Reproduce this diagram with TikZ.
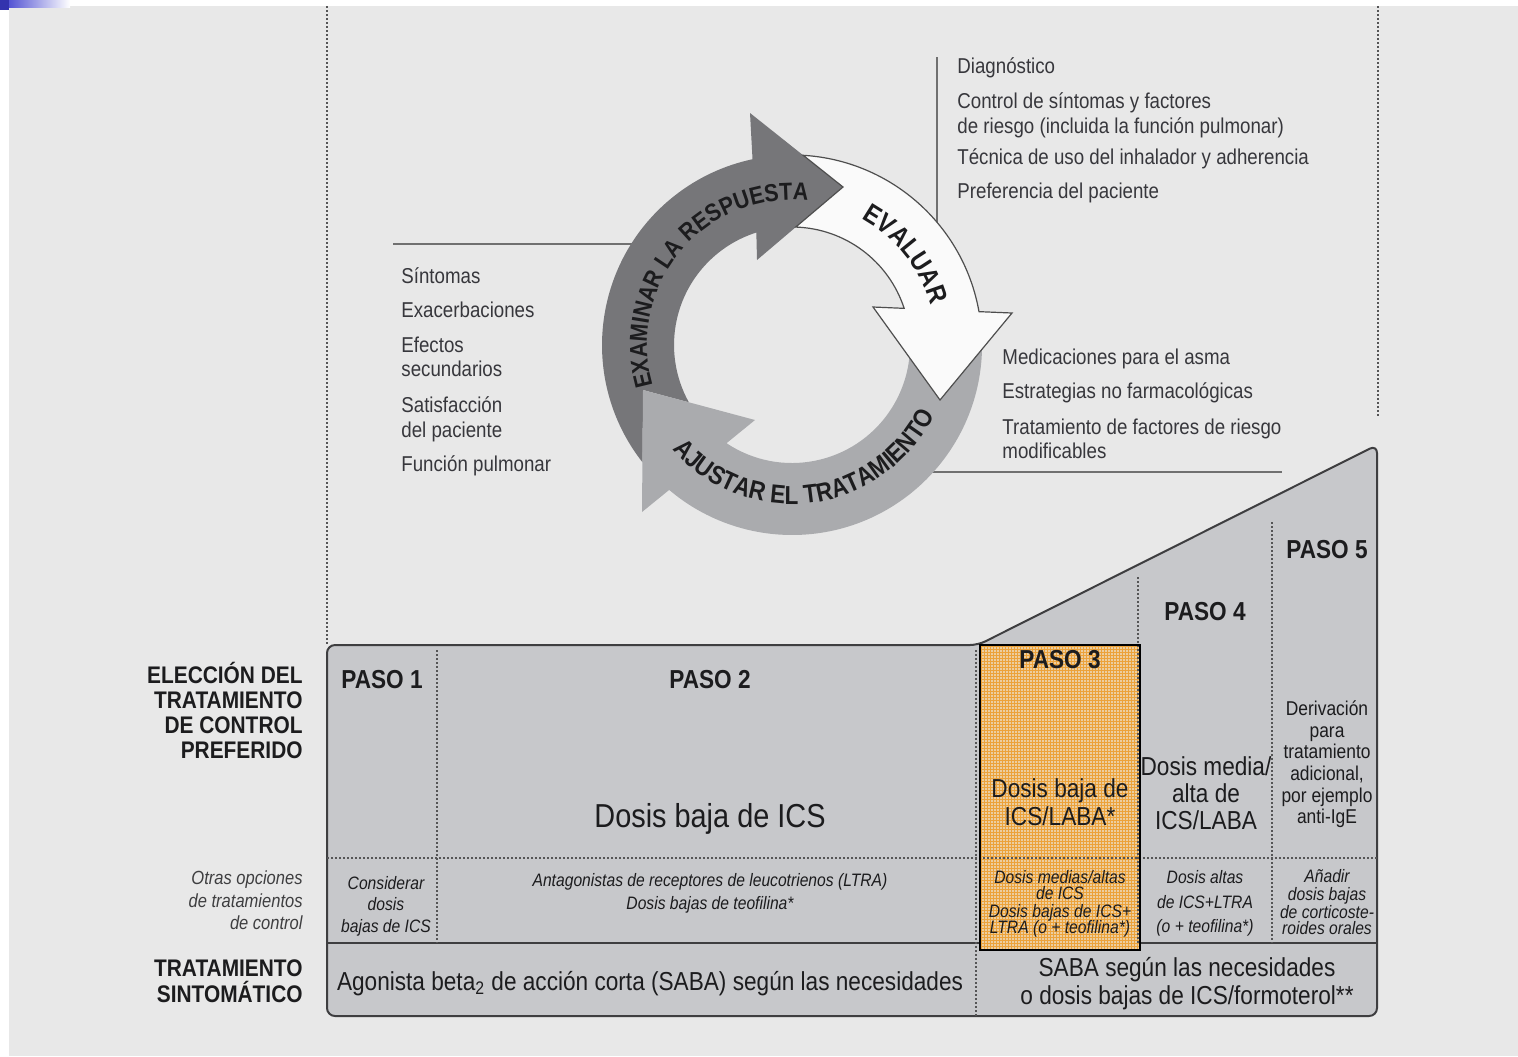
\documentclass[tikz,border=0pt]{standalone}
\usepackage{fontspec}
\setmainfont{Liberation Sans}[FakeStretch=0.87]
\usetikzlibrary{calc,decorations.text}

\definecolor{bg}{RGB}{232,232,232}
\definecolor{panel}{RGB}{199,200,203}
\definecolor{ink}{RGB}{28,28,30}
\definecolor{listink}{RGB}{55,55,60}
\definecolor{rulegray}{RGB}{112,112,112}
\definecolor{darkarrow}{RGB}{118,118,121}
\definecolor{lightarrow}{RGB}{170,171,174}
\definecolor{whitearrow}{RGB}{250,250,250}
\definecolor{stepfill}{RGB}{236,206,160}
\definecolor{stepgrid}{RGB}{236,162,58}
\definecolor{cornerblue}{RGB}{60,60,205}

\newcommand{\fsz}[1]{\fontsize{#1}{#1}\selectfont}

\begin{document}
\begin{tikzpicture}[x=0.5pt,y=-0.5pt,
  listtxt/.style={anchor=base west, inner sep=0pt, text=listink, font=\fsz{10.75}},
  lbl/.style={anchor=base east, inner sep=0pt, text=ink, font=\fsz{12}\bfseries},
  lblit/.style={anchor=base east, inner sep=0pt, text=ink!85, font=\fsz{9.5}\itshape},
  pasotxt/.style={anchor=base, inner sep=0pt, text=ink, font=\fsz{13}\bfseries},
  celltxt/.style={anchor=base, inner sep=0pt, text=ink, font=\fsz{13}},
  bigtxt/.style={anchor=base, inner sep=0pt, text=ink, font=\fsz{16.6}},
  rowtxt/.style={anchor=base, inner sep=0pt, text=ink, font=\fsz{13}},
  smalltxt/.style={anchor=base, inner sep=0pt, text=ink, font=\fsz{10}},
  opttxt/.style={anchor=base, inner sep=0pt, text=ink, font=\fsz{9}\itshape},
  dotline/.style={draw=ink!75, line width=0.7pt, dash pattern=on 1pt off 1pt},
  thinrule/.style={draw=rulegray, line width=0.75pt},
  arctext/.style={decorate, decoration={text along path, text align=center, text color=ink}}
]
\useasboundingbox (0,0) rectangle (1518,1056);

% page background and corner mark
\fill[white] (0,0) rectangle (1518,1056);
\fill[bg] (9,6) rectangle (1518,1056);
\shade[left color=cornerblue, right color=white] (0,0) rectangle (70,7);
\fill[cornerblue!85!black] (0,0) rectangle (9,10);

% dotted frame lines
\coordinate (ltop) at (327,6);
\coordinate (lbot) at (327,645);
\coordinate (rtop) at (1378,6);
\coordinate (rbot) at (1378,418);
\draw[dotline] (ltop) -- (lbot);
\draw[dotline] (rtop) -- (rbot);

% rules linking the cycle to its lists
\coordinate (C) at (792,345);
\coordinate (vtop) at (937,57);
\coordinate (vbot) at (937,235);
\coordinate (hla) at (393,244);
\coordinate (hlb) at (660,244);
\coordinate (hra) at (900,472);
\coordinate (hrb) at (1282,472);
\draw[thinrule] (vtop) -- (vbot);
\draw[thinrule] (hla) -- (hlb);
\draw[thinrule] (hra) -- (hrb);

% cycle: examine (dark), adjust (light), assess (white)
\fill[darkarrow] (642.5,462.3) arc[start angle=141.9, end angle=258, radius=190]
  -- (750,113) -- (843,187) -- (757,260)
  -- ($(C)+(252.4:118)$) arc[start angle=252.4, end angle=150.95, radius=118]
  -- (643,390) -- cycle;
\fill[lightarrow] (982,349.3) arc[start angle=1.3, end angle=130.3, radius=190]
  -- (642,512) -- (643,390) -- (755,420)
  -- ($(C)+(123.7:118)$) arc[start angle=123.7, end angle=6.0, radius=118]
  -- (940,400) -- cycle;
\filldraw[fill=whitearrow, draw=rulegray!70!black, line width=0.6pt]
  (803.2,155.3) arc[start angle=-86.6, end angle=-10.1, radius=190]
  -- (1012,313) -- (940,400) -- (873,307)
  -- ($(C)+(-18.1:118)$) arc[start angle=-18.1, end angle=-88.2, radius=118]
  -- (843,187) -- cycle;

\path[arctext, decoration={text={|\fsz{12.3}\bfseries|EXAMINAR LA RESPUESTA}}]
  ($(C)+(160:145)$) arc[start angle=160, end angle=280, radius=145];
\path[arctext, decoration={text={|\fsz{13.5}\bfseries|EVALUAR}}]
  ($(C)+(-73.6:144)$) arc[start angle=-73.6, end angle=-3.6, radius=144];
\path[arctext, decoration={text={|\fsz{13}\bfseries|AJUSTAR EL TRATAMIENTO}}]
  ($(C)+(150:159)$) arc[start angle=150, end angle=15, radius=159];

% lists around the cycle
\node[listtxt] (d1) at (957,73) {Diagnóstico};
\node[listtxt] (d2) at (957,108) {Control de síntomas y factores};
\node[listtxt] (d3) at (957,133) {de riesgo (incluida la función pulmonar)};
\node[listtxt] (d4) at (957,164) {Técnica de uso del inhalador y adherencia};
\node[listtxt] (d5) at (957,198) {Preferencia del paciente};

\node[listtxt] (r1) at (401,283) {Síntomas};
\node[listtxt] (r2) at (401,317) {Exacerbaciones};
\node[listtxt] (r3) at (401,352) {Efectos};
\node[listtxt] (r4) at (401,376) {secundarios};
\node[listtxt] (r5) at (401,412) {Satisfacción};
\node[listtxt] (r6) at (401,437) {del paciente};
\node[listtxt] (r7) at (401,471) {Función pulmonar};

\node[listtxt] (a1) at (1002,364) {Medicaciones para el asma};
\node[listtxt] (a2) at (1002,398) {Estrategias no farmacológicas};
\node[listtxt] (a3) at (1002,434) {Tratamiento de factores de riesgo};
\node[listtxt] (a4) at (1002,458) {modificables};

% stepped table
\filldraw[fill=panel, draw=ink!85, line width=1pt, rounded corners=4pt]
  (327,1016) -- (327,645) -- (978,645) -- (1377,445) -- (1377,1016) -- cycle;
\coordinate (sl) at (327,943);
\coordinate (sr) at (1377,943);
\draw[ink!85, line width=1pt] (sl) -- (sr);

% highlighted step 3
\begin{scope}
  \clip (980,645) rectangle (1140,950);
  \fill[stepfill] (980,645) rectangle (1140,950);
  \foreach \gx in {981,984,...,1140} \draw[stepgrid, line width=0.22pt] (\gx,645) -- (\gx,950);
  \foreach \gy in {646,649,...,950} \draw[stepgrid, line width=0.22pt] (980,\gy) -- (1140,\gy);
\end{scope}

% dotted separators
\coordinate (hl) at (327,858);
\coordinate (hr) at (1377,858);
\draw[dotline] (hl) -- (hr);
\coordinate (v1a) at (437,650);  \coordinate (v1b) at (437,943);
\coordinate (v2a) at (976,650);  \coordinate (v2b) at (976,1016);
\coordinate (v3a) at (1138,577); \coordinate (v3b) at (1138,943);
\coordinate (v4a) at (1272,522); \coordinate (v4b) at (1272,943);
\draw[dotline] (v1a) -- (v1b);
\draw[dotline] (v2a) -- (v2b);
\draw[dotline] (v3a) -- (v3b);
\draw[dotline] (v4a) -- (v4b);

\draw[black, line width=1.2pt] (980,645) rectangle (1140,950);

% row labels
\node[lbl] (l1) at (303,683) {ELECCIÓN DEL};
\node[lbl] (l2) at (303,708) {TRATAMIENTO};
\node[lbl] (l3) at (303,733) {DE CONTROL};
\node[lbl] (l4) at (303,758) {PREFERIDO};
\node[lblit] (o1) at (303,884) {Otras opciones};
\node[lblit] (o2) at (303,907) {de tratamientos};
\node[lblit] (o3) at (303,929) {de control};
\node[lbl] (s1) at (303,976) {TRATAMIENTO};
\node[lbl] (s2) at (303,1002) {SINTOMÁTICO};

% step headings
\node[pasotxt] (p1) at (382,688) {PASO 1};
\node[pasotxt] (p2) at (710,688) {PASO 2};
\node[pasotxt] (p3) at (1060,668) {PASO 3};
\node[pasotxt] (p4) at (1205,620) {PASO 4};
\node[pasotxt] (p5) at (1327,558) {PASO 5};

% preferred controller
\node[bigtxt] (c2) at (710,827) {Dosis baja de ICS};
\node[celltxt] (c3a) at (1060,797) {Dosis baja de};
\node[celltxt] (c3b) at (1060,825) {ICS/LABA*};
\node[celltxt] (c4a) at (1206,775) {Dosis media/};
\node[celltxt] (c4b) at (1206,802) {alta de};
\node[celltxt] (c4c) at (1206,829) {ICS/LABA};
\node[smalltxt] (c5a) at (1327,715) {Derivación};
\node[smalltxt] (c5b) at (1327,737) {para};
\node[smalltxt] (c5c) at (1327,758) {tratamiento};
\node[smalltxt] (c5d) at (1327,780) {adicional,};
\node[smalltxt] (c5e) at (1327,802) {por ejemplo};
\node[smalltxt] (c5f) at (1327,823) {anti-IgE};

% other controller options
\node[opttxt] (e1a) at (386,889) {Considerar};
\node[opttxt] (e1b) at (386,910) {dosis};
\node[opttxt] (e1c) at (386,932) {bajas de ICS};
\node[opttxt] (e2a) at (710,886) {Antagonistas de receptores de leucotrienos (LTRA)};
\node[opttxt] (e2b) at (710,909) {Dosis bajas de teofilina*};
\node[opttxt] (e3a) at (1060,883) {Dosis medias/altas};
\node[opttxt] (e3b) at (1060,899) {de ICS};
\node[opttxt] (e3c) at (1060,917) {Dosis bajas de ICS+};
\node[opttxt] (e3d) at (1060,933) {LTRA (o + teofilina*)};
\node[opttxt] (e4a) at (1205,883) {Dosis altas};
\node[opttxt] (e4b) at (1205,908) {de ICS+LTRA};
\node[opttxt] (e4c) at (1205,932) {(o + teofilina*)};
\node[opttxt] (e5a) at (1327,882) {Añadir};
\node[opttxt] (e5b) at (1327,900) {dosis bajas};
\node[opttxt] (e5c) at (1327,918) {de corticoste-};
\node[opttxt] (e5d) at (1327,934) {roides orales};

% reliever row
\node[rowtxt] (b1) at (650,990) {Agonista beta\textsubscript{2} de acción corta (SABA) según las necesidades};
\node[rowtxt] (b2a) at (1187,976) {SABA según las necesidades};
\node[rowtxt] (b2b) at (1187,1004) {o dosis bajas de ICS/formoterol**};
\end{tikzpicture}
\end{document}
